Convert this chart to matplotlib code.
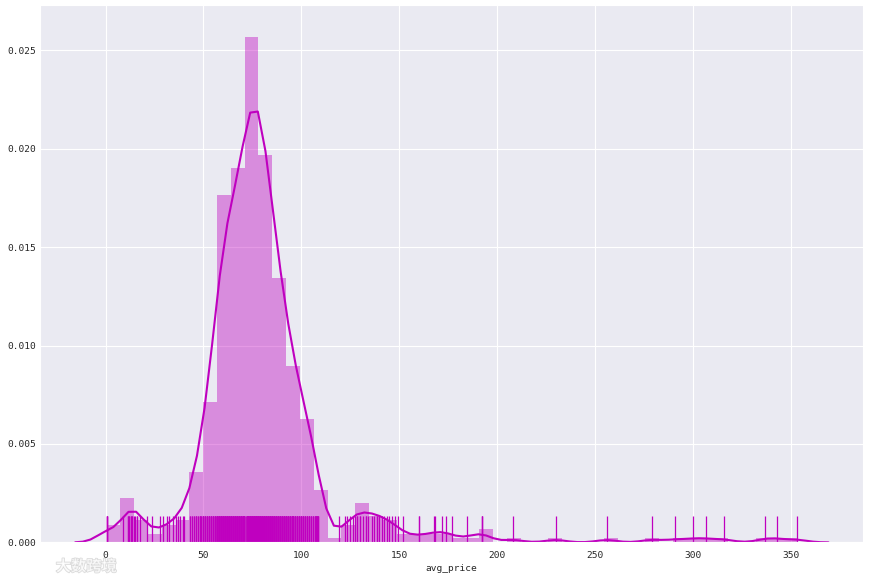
import numpy as np
import matplotlib
matplotlib.use("Agg")
import matplotlib.pyplot as plt
import matplotlib.patheffects as pe
import seaborn as sns

low_prices = [0.5, 9.1, 11.3, 12.1, 12.9, 13.7, 14.4, 15.1, 15.9, 17.6, 21.0,
              23.6, 27.8, 29.2, 31.5, 32.6, 34.6, 36.0, 37.2, 38.1, 39.4, 40.2]
low_counts = [4, 1, 2, 2, 2, 2, 1, 1, 2, 1, 1,
              1, 1, 1, 1, 1, 1, 1, 1, 1, 1, 1]

core_prices = [43, 44, 45, 46, 47, 48, 49,
               50, 51, 52, 53, 54, 55, 56,
               57, 58, 59, 60, 61, 62, 63,
               64.3, 65, 66, 67, 68, 69, 70, 70.8,
               72, 73, 74, 75, 76, 77, 78,
               79, 80, 81, 82, 83, 84, 85,
               86, 87, 88, 89, 90, 91, 92,
               93, 94, 95, 96, 97, 98, 99,
               100, 101, 102, 103, 104, 105, 106,
               107, 107.5, 108, 108.7]
core_counts = [2, 2, 2, 3, 2, 3, 2,
               5, 4, 4, 5, 4, 5, 5,
               10, 11, 11, 12, 11, 12, 12,
               10, 10, 11, 11, 10, 11, 11, 11,
               15, 16, 16, 17, 17, 17, 17,
               14, 13, 13, 12, 12, 12, 12,
               10, 9, 9, 8, 8, 8, 8,
               7, 6, 6, 6, 5, 5, 5,
               5, 5, 4, 4, 4, 3, 3,
               3, 3, 3, 3]

high_prices = [119.4, 122.3, 123.5, 124.9, 126.2,
               127.6, 128.6, 130.0, 131.4, 132.9, 134.2,
               136.0, 137.1, 138.5, 139.7, 141.1,
               142.2, 143.6, 144.9, 146.2, 147.9, 149.5, 151.8,
               160.1, 167.9, 168.4, 171.7, 173.7, 177.0, 184.8, 192.1,
               208.0, 229.9, 256.0, 279.0, 291.0, 300.2, 306.8, 316.0,
               337.0, 343.0, 353.3]
high_counts = [1, 1, 1, 1, 1,
               1, 2, 2, 1, 2, 1,
               1, 1, 2, 1, 1,
               1, 1, 1, 1, 1, 1, 1,
               2, 1, 1, 1, 1, 1, 1, 3,
               1, 1, 1, 1, 1, 1, 1, 1,
               1, 1, 1]

avg_price = np.repeat(low_prices + core_prices + high_prices,
                      low_counts + core_counts + high_counts).astype(float)

sns.set_style("darkgrid")
plt.rcParams['font.family'] = ['DejaVu Sans Mono', 'Noto Sans CJK SC']

fig = plt.figure(figsize=(8.7, 5.77), dpi=100)
ax = fig.add_axes([0.046, 0.060, 0.946, 0.931])

# histogram, 50 bins like distplot
ax.hist(avg_price, bins=50, density=True, color='m', alpha=0.4, linewidth=0)

# gaussian kde with scott bandwidth (robust spread), cut=3
n = len(avg_price)
q75, q25 = np.percentile(avg_price, [75, 25])
spread = min(avg_price.std(ddof=1), (q75 - q25) / 1.349)
bw = 1.059 * spread * n ** (-0.2)
grid = np.linspace(avg_price.min() - 3 * bw, avg_price.max() + 3 * bw, 100)
dens = np.exp(-0.5 * ((grid[:, None] - avg_price[None, :]) / bw) ** 2).sum(axis=1)
dens /= n * bw * np.sqrt(2 * np.pi)
ax.plot(grid, dens, color='m', linewidth=1.5)

# rug
ax.vlines(avg_price, 0, 0.05, transform=ax.get_xaxis_transform(),
          color='m', linewidth=0.9)

ax.set_xlim(-33.5, 387)
ax.set_ylim(0, 0.0273)
ax.set_xticks(np.arange(0, 351, 50))
ax.set_yticks(np.arange(0, 0.0251, 0.005))
ax.set_yticklabels([f"{v:.3f}" for v in np.arange(0, 0.0251, 0.005)])
ax.tick_params(labelsize=6.8, length=0, colors='#262626')
ax.tick_params(axis='y', pad=3)
ax.tick_params(axis='x', pad=6)
ax.set_xlabel('avg_price', fontsize=6.8, labelpad=3, color='#262626')

fig.text(0.064, 0.010, '大数跨境', family=['Noto Sans CJK SC'], fontsize=11,
         fontweight='bold', color='white', alpha=0.7,
         path_effects=[pe.withStroke(linewidth=1.0, foreground='#c8c8c8')])

fig.savefig('out.png', dpi=100)
